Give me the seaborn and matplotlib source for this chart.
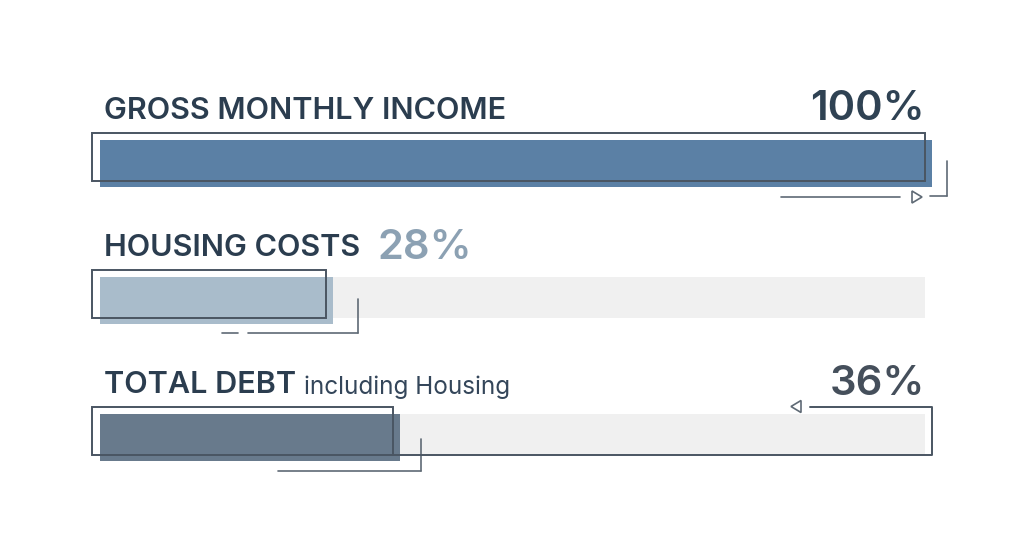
import matplotlib
matplotlib.use("Agg")
import matplotlib.pyplot as plt
import seaborn as sns
import pandas as pd
from matplotlib.patches import Rectangle, Polygon

# ---- data ----
categories = ["GROSS MONTHLY INCOME", "HOUSING COSTS", "TOTAL DEBT"]
values = [100, 28, 36]
value_labels = ["100%", "28%", "36%"]
subtitles = ["", "", "including Housing"]
track_max = [100, 100, 100]

fill_colors = ["#5b80a5", "#a9bccb", "#687a8c"]
pct_colors = ["#2f4253", "#8ca1b3", "#454f5b"]

sns.set_theme(style="white")
plt.rcParams['font.family'] = ['Inter', 'DejaVu Sans']

W, H = 1024, 559
fig = plt.figure(figsize=(W / 100, H / 100), dpi=100)
left_px, right_px = 100, 932
ax = fig.add_axes([0, 0, 1, 1])

# pixel -> data conversions
PXX = 100 / (right_px - left_px)
ROW_PX = 137.0
PXY = 1 / ROW_PX
top_center = 163.0

df = pd.DataFrame({"cat": categories, "val": values, "track": track_max})
bar_h = 47 * PXY

sns.barplot(data=df, x="track", y="cat", orient="h", color="#f0f0f0",
            width=41 * PXY, ax=ax, saturation=1, order=categories)
for i, p in enumerate(ax.patches):
    p.set_y(i - bar_h / 2)
    p.set_width(100 - 7 * PXX)
    p.set_linewidth(0)
    if i == 0:
        p.set_visible(False)
n_tracks = len(ax.patches)

sns.barplot(data=df, x="val", y="cat", orient="h", hue="cat",
            palette=fill_colors, width=bar_h, ax=ax, saturation=1,
            order=categories, hue_order=categories, legend=False)
for p in ax.patches[n_tracks:]:
    p.set_linewidth(0)

ax.set_xlim(-left_px * PXX, (W - left_px) * PXX)
ax.set_ylim((H - top_center) / ROW_PX, -top_center / ROW_PX)
ax.axis("off")

line_c = "#4a5562"
thin_c = "#5f6a75"
for i, v in enumerate(values):
    ax.add_patch(Rectangle((-8 * PXX, i - bar_h / 2 - 7 * PXY),
                           v + 1 * PXX, bar_h + 1 * PXY, fill=False,
                           edgecolor=line_c, linewidth=1.4, zorder=5))

# row 1 decorations
v = values[0]
ax.plot([v + 15 * PXX] * 2, [0 - 2 * PXY, 0 + 33 * PXY], color=thin_c, lw=1.2)
ax.plot([v - 2 * PXX, v + 15 * PXX], [0 + 33 * PXY] * 2, color=thin_c, lw=1.2)
ax.plot([v - 151 * PXX, v - 32 * PXX], [0 + 34 * PXY] * 2, color=thin_c, lw=1.2)
ax.add_patch(Polygon([(v - 20 * PXX, 0 + 28 * PXY), (v - 20 * PXX, 0 + 40 * PXY),
                      (v - 10 * PXX, 0 + 34 * PXY)], closed=True, fill=False,
                     edgecolor=thin_c, lw=1.2))

# row 2 decorations
v = values[1]
xe = v + 8 * PXX + 17 * PXX
ax.plot([xe] * 2, [1 - 1 * PXY, 1 + 33 * PXY], color=thin_c, lw=1.2)
ax.plot([xe - 110 * PXX, xe], [1 + 33 * PXY] * 2, color=thin_c, lw=1.2)
ax.plot([xe - 136 * PXX, xe - 120 * PXX], [1 + 33 * PXY] * 2, color=thin_c, lw=1.2)

# row 3 decorations
v = values[2]
xe = v + 9 * PXX + 12 * PXX
ax.plot([xe] * 2, [2 + 1.5 * PXY, 2 + 33.5 * PXY], color=thin_c, lw=1.2)
ax.plot([xe - 143 * PXX, xe], [2 + 33.5 * PXY] * 2, color=thin_c, lw=1.2)
y_top = 2 - bar_h / 2 - 7 * PXY
y_bot = y_top + bar_h + 1 * PXY
ax.plot([100 - 122 * PXX, 100, 100, values[2] - 7 * PXX],
        [y_top, y_top, y_bot, y_bot], color=line_c, lw=1.4)
ax.add_patch(Polygon([(100 - 131 * PXX, y_top - 6 * PXY), (100 - 131 * PXX, y_top + 6 * PXY),
                      (100 - 141 * PXX, y_top)], closed=True, fill=False,
                     edgecolor=thin_c, lw=1.2))

# text
title_c = "#2b3d4f"
lab_fs = 22
pct_fs = 30
for i, cat in enumerate(categories):
    ty = i - 44 * PXY
    t = ax.text(4 * PXX, ty, cat, fontsize=lab_fs, fontweight="semibold",
                color=title_c, ha="left", va="baseline")
    if subtitles[i]:
        ax.annotate(subtitles[i], xy=(1, 0), xycoords=t,
                    xytext=(6, 0), textcoords="offset points",
                    fontsize=17.5, color="#34465a", ha="left", va="bottom")

ax.text(100 - 7 * PXX, 0 - 43 * PXY, value_labels[0], fontsize=pct_fs,
        fontweight="semibold", color=pct_colors[0], ha="right", va="baseline")
ax.text(278 * PXX, 1 - 41 * PXY, value_labels[1], fontsize=pct_fs,
        fontweight="semibold", color=pct_colors[1], ha="left", va="baseline")
ax.text(100 - 7 * PXX, 2 - 42 * PXY, value_labels[2], fontsize=pct_fs,
        fontweight="semibold", color=pct_colors[2], ha="right", va="baseline")

fig.savefig("out.png", dpi=100, facecolor="white")
